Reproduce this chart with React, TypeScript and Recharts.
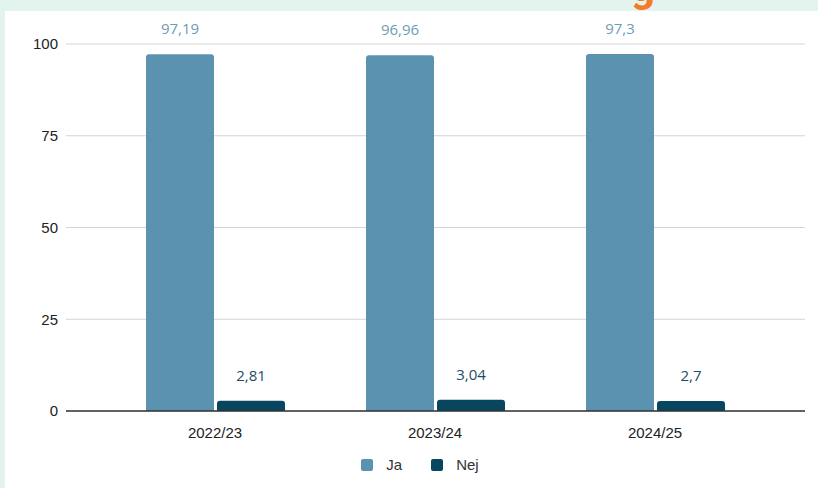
import React from "react";
import { Bar, BarChart, CartesianGrid, LabelList, Legend, XAxis, YAxis } from "recharts";

const categories = ["2022/23", "2023/24", "2024/25"];
const jaValues = [97.19, 96.96, 97.3];
const nejValues = [2.81, 3.04, 2.7];
const yTicks = [0, 25, 50, 75, 100];

const JA = "#5a92af";
const NEJ = "#08465f";

const data = categories.map((c, i) => ({ year: c, ja: jaValues[i], nej: nejValues[i] }));

const fmt = (v: any) => String(v).replace(".", ",");

function LegendContent() {
  const items = [
    { name: "Ja", color: JA },
    { name: "Nej", color: NEJ },
  ];
  return (
    <div style={{ display: "flex", justifyContent: "center", paddingLeft: 30, fontFamily: "'Liberation Sans', Arial, sans-serif", fontSize: 15, color: "#333" }}>
      {items.map((it, i) => (
        <div key={it.name} style={{ display: "flex", alignItems: "center", marginLeft: i ? 29 : 0 }}>
          <span style={{ width: 12, height: 12, background: it.color, borderRadius: 2, marginRight: 13, display: "inline-block" }} />
          <span>{it.name}</span>
        </div>
      ))}
    </div>
  );
}

export default function App() {
  return (
    <div style={{ position: "absolute", left: 0, top: 0, width: 818, height: 488, background: "#e3f4ee", overflow: "hidden" }}>
      {/* bottom of the title, cut off above the card */}
      <div style={{ position: "absolute", left: 0, top: 0, width: 818, height: 11, overflow: "hidden" }}>
        <span style={{ position: "absolute", left: 631, top: -33, fontFamily: "Roboto, sans-serif", fontWeight: 700, fontSize: 42, lineHeight: "40px", color: "#f47b2a" }}>g</span>
      </div>
      <div style={{ position: "absolute", left: 5, top: 11, width: 813, height: 477, background: "#fff" }}>
        <BarChart width={813} height={477} data={data} margin={{ top: 33, right: 13, left: 0, bottom: 7 }} barSize={68} barGap={3}>
          <CartesianGrid vertical={false} stroke="#d3d3d3" strokeWidth={1.2} />
          <XAxis
            dataKey="year"
            padding={{ left: 39, right: 40 }}
            tickLine={false}
            axisLine={{ stroke: "#333", strokeWidth: 1.5 }}
            tickMargin={10}
            height={45}
            tick={{ fill: "#222", fontSize: 15, fontFamily: "'Liberation Sans', Arial, sans-serif" }}
          />
          <YAxis
            width={61}
            domain={[0, 100]}
            ticks={yTicks}
            axisLine={false}
            tickLine={false}
            tick={{ fill: "#222", fontSize: 15, fontFamily: "'Liberation Sans', Arial, sans-serif" }}
          />
          <Legend verticalAlign="bottom" height={25} content={<LegendContent />} />
          <Bar dataKey="ja" name="Ja" fill={JA} radius={[3, 3, 0, 0]} isAnimationActive={false}>
            <LabelList dataKey="ja" position="top" offset={20} formatter={fmt} fill="#6d9db7" fontSize={15} fontFamily="'Open Sans', sans-serif" />
          </Bar>
          <Bar dataKey="nej" name="Nej" fill={NEJ} radius={[3, 3, 0, 0]} isAnimationActive={false}>
            <LabelList dataKey="nej" position="top" offset={20} formatter={fmt} fill="#1d4e66" fontSize={15} fontFamily="'Open Sans', sans-serif" />
          </Bar>
        </BarChart>
      </div>
    </div>
  );
}
